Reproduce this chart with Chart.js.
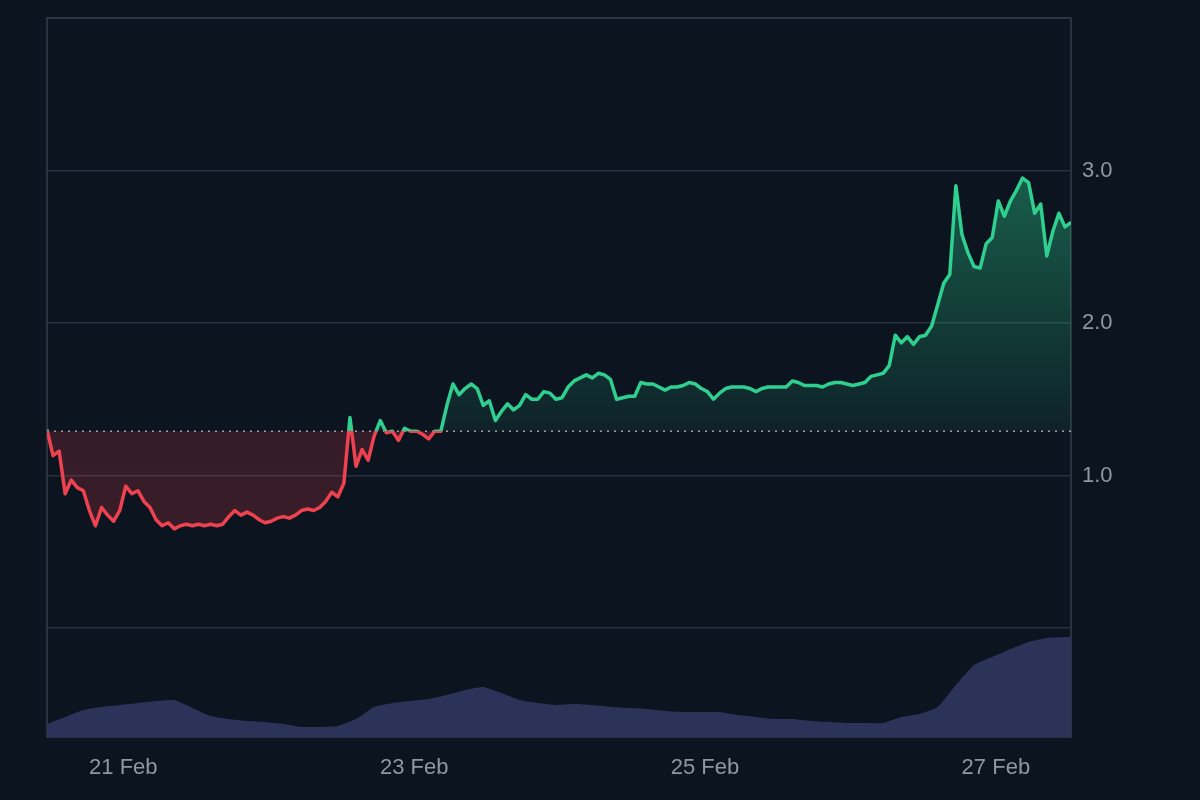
<!DOCTYPE html>
<html lang="en">
<head>
    <meta charset="UTF-8">
    <title>Price Chart</title>
    <script src="https://cdn.jsdelivr.net/npm/chart.js@4.4.0/dist/chart.umd.min.js"></script>
    <style>
        body {
            margin: 0;
            background: #0c1420;
        }
        .chart-wrap {
            width: 1200px;
            height: 800px;
        }
    </style>
</head>
<body>
    <div class="chart-wrap"><canvas id="priceChart"></canvas></div>

    <script>
        // hours counted from 20 Feb 00:00
        const startHour = 11.4;
        const endHour = 180.4;
        const priceStep = 1;
        const prices = [
            1.30, 1.13, 1.16, 0.88, 0.97, 0.92, 0.90, 0.77, 0.67, 0.79,
            0.74, 0.70, 0.77, 0.93, 0.88, 0.90, 0.83, 0.79, 0.71, 0.67,
            0.69, 0.65, 0.67, 0.68, 0.67, 0.68, 0.67, 0.68, 0.67, 0.68,
            0.73, 0.77, 0.74, 0.76, 0.74, 0.71, 0.69, 0.70, 0.72, 0.73,
            0.72, 0.74, 0.77, 0.78, 0.77, 0.79, 0.83, 0.89, 0.86, 0.95,
            1.38, 1.06, 1.17, 1.10, 1.26, 1.36, 1.28, 1.29, 1.23, 1.31,
            1.29, 1.29, 1.27, 1.24, 1.29, 1.29, 1.46, 1.60, 1.53, 1.57,
            1.60, 1.57, 1.46, 1.49, 1.36, 1.42, 1.47, 1.43, 1.46, 1.53,
            1.50, 1.50, 1.55, 1.54, 1.50, 1.51, 1.58, 1.62, 1.64, 1.66,
            1.64, 1.67, 1.66, 1.63, 1.50, 1.51, 1.52, 1.52, 1.61, 1.60,
            1.60, 1.58, 1.56, 1.58, 1.58, 1.59, 1.61, 1.60, 1.57, 1.55,
            1.50, 1.54, 1.57, 1.58, 1.58, 1.58, 1.57, 1.55, 1.57, 1.58,
            1.58, 1.58, 1.58, 1.62, 1.61, 1.59, 1.59, 1.59, 1.58, 1.60,
            1.61, 1.61, 1.60, 1.59, 1.60, 1.61, 1.65, 1.66, 1.67, 1.72,
            1.92, 1.87, 1.91, 1.86, 1.91, 1.92, 1.98, 2.12, 2.26, 2.32,
            2.90, 2.58, 2.46, 2.37, 2.36, 2.52, 2.56, 2.80, 2.70, 2.80,
            2.87, 2.95, 2.92, 2.72, 2.78, 2.44, 2.60, 2.72, 2.63, 2.66
        ];
        const volumeStep = 3;
        const volumes = [
            13, 20, 27, 30, 32, 34, 36, 37, 29, 21,
            18, 16, 15, 13, 10, 10, 11, 18, 30, 34,
            36, 38, 42, 47, 50, 44, 37, 34, 32, 33,
            32, 30, 29, 28, 26, 25, 25, 25, 22, 20,
            18, 18, 16, 15, 14, 14, 14, 20, 23, 30,
            52, 72, 80, 88, 95, 99, 100, 101
        ];
        const baseline = 1.29;
        const dayTicks = [24, 72, 120, 168];
        const dayLabels = ['21 Feb', '23 Feb', '25 Feb', '27 Feb'];
        const priceTicks = [0, 1, 2, 3, 4];
        const priceLabels = ['', '1.0', '2.0', '3.0', ''];

        const green = '#2ecf8f';
        const red = '#ef4250';
        const gridColor = '#26303c';
        const frameColor = '#333d4a';
        const labelColor = '#8f97a3';
        const labelFont = { family: "'Liberation Sans', Arial, sans-serif", size: 22 };

        // hard colour switch at the baseline value
        function lineGradient(context) {
            const chart = context.chart;
            const area = chart.chartArea;
            if (!area) return green;
            const yb = chart.scales.y.getPixelForValue(baseline);
            const t = (yb - area.top) / (area.bottom - area.top);
            const g = chart.ctx.createLinearGradient(0, area.top, 0, area.bottom);
            g.addColorStop(0, green);
            g.addColorStop(t, green);
            g.addColorStop(t, red);
            g.addColorStop(1, red);
            return g;
        }

        function fillGradient(context) {
            const chart = context.chart;
            const area = chart.chartArea;
            if (!area) return 'rgba(46,207,143,0.2)';
            const y = chart.scales.y;
            const h = area.bottom - area.top;
            const pos = v => Math.min(1, Math.max(0, (y.getPixelForValue(v) - area.top) / h));
            const t = pos(baseline);
            const g = chart.ctx.createLinearGradient(0, area.top, 0, area.bottom);
            g.addColorStop(0, 'rgba(46,207,143,0.42)');
            g.addColorStop(pos(2.9), 'rgba(46,207,143,0.38)');
            g.addColorStop(t, 'rgba(46,207,143,0.08)');
            g.addColorStop(t, 'rgba(239,66,80,0.19)');
            g.addColorStop(pos(0.6), 'rgba(239,66,80,0.2)');
            g.addColorStop(1, 'rgba(239,66,80,0.15)');
            return g;
        }

        const framePlugin = {
            id: 'frame',
            beforeDatasetsDraw(chart) {
                const { ctx, chartArea: a } = chart;
                ctx.save();
                ctx.strokeStyle = frameColor;
                ctx.lineWidth = 1.5;
                ctx.strokeRect(a.left, a.top, a.right - a.left, a.bottom - a.top);
                ctx.restore();
            }
        };

        new Chart(document.getElementById('priceChart'), {
            type: 'line',
            data: {
                datasets: [
                    {
                        label: 'Price',
                        data: prices.map((p, i) => ({ x: startHour + i * priceStep, y: p })),
                        borderColor: lineGradient,
                        backgroundColor: fillGradient,
                        borderWidth: 3.5,
                        borderJoinStyle: 'round',
                        pointRadius: 0,
                        tension: 0,
                        fill: { value: baseline },
                        order: 0
                    },
                    {
                        label: 'Baseline',
                        data: [{ x: startHour, y: baseline }, { x: endHour, y: baseline }],
                        borderColor: 'rgba(205,212,222,0.75)',
                        borderWidth: 1.5,
                        borderDash: [2, 5],
                        pointRadius: 0,
                        fill: false,
                        order: 1
                    },
                    {
                        label: 'Volume',
                        data: volumes.map((v, i) => ({ x: startHour + i * volumeStep, y: v })),
                        yAxisID: 'yv',
                        borderWidth: 0,
                        borderColor: '#2b3358',
                        backgroundColor: '#2b3358',
                        pointRadius: 0,
                        tension: 0.15,
                        fill: 'origin',
                        order: 2
                    }
                ]
            },
            options: {
                responsive: true,
                maintainAspectRatio: false,
                animation: false,
                layout: { padding: { left: 47, top: 18, right: 0, bottom: 0 } },
                plugins: {
                    legend: { display: false },
                    tooltip: { enabled: false }
                },
                scales: {
                    x: {
                        type: 'linear',
                        min: startHour,
                        max: endHour,
                        afterBuildTicks: s => { s.ticks = dayTicks.map(v => ({ value: v })); },
                        afterFit: s => { s.height = 63; s.paddingLeft = 0; s.paddingRight = 0; },
                        grid: { display: false, drawTicks: false },
                        border: { display: false },
                        ticks: {
                            autoSkip: false,
                            maxRotation: 0,
                            padding: 18,
                            color: labelColor,
                            font: labelFont,
                            callback: (v, i) => dayLabels[i]
                        }
                    },
                    y: {
                        position: 'right',
                        min: -0.715,
                        max: 4,
                        afterBuildTicks: s => { s.ticks = priceTicks.map(v => ({ value: v })); },
                        afterFit: s => { s.width = 129; s.paddingTop = 0; s.paddingBottom = 0; },
                        grid: { color: gridColor, lineWidth: 1.5, drawTicks: false },
                        border: { display: false },
                        ticks: {
                            padding: 11,
                            color: labelColor,
                            font: labelFont,
                            callback: (v, i) => priceLabels[i]
                        }
                    },
                    yv: {
                        display: false,
                        min: 0,
                        max: 719
                    }
                }
            },
            plugins: [framePlugin]
        });
    </script>
</body>
</html>
